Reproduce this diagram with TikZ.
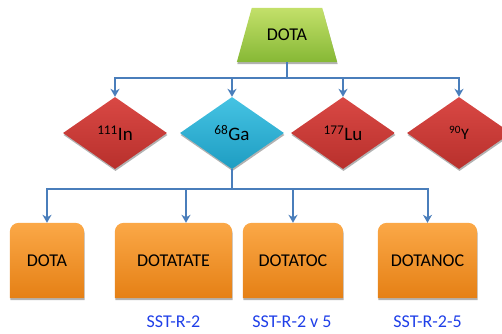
\documentclass[tikz,border=0pt]{standalone}
\usepackage{fontspec}
\setmainfont{Carlito}
\usetikzlibrary{shapes.geometric,arrows.meta,shadows,backgrounds,calc}
\definecolor{conncol}{HTML}{4A7EBB}
\definecolor{sstblue}{HTML}{1F3FE8}
\definecolor{redtop}{HTML}{D94844}
\definecolor{redbot}{HTML}{B8302C}
\definecolor{bluetop}{HTML}{45C3E3}
\definecolor{bluebot}{HTML}{1E9DC2}
\definecolor{orgtop}{HTML}{FBA847}
\definecolor{orgmid}{HTML}{F7941E}
\definecolor{orgbot}{HTML}{E58015}
\definecolor{grntop}{HTML}{C3E06A}
\definecolor{grnbot}{HTML}{86B835}
\tikzset{
  x=1pt, y=-1pt,
  every node/.style={font=\fontsize{18}{21}\selectfont, text=black},
  link/.style={draw=conncol, line width=2pt},
  arr/.style={link, -{Stealth[length=8pt,width=9pt,inset=2.5pt]}},
  shad/.style={drop shadow={shadow xshift=0.5pt, shadow yshift=-2pt, opacity=0.3, fill=black}},
  iso/.style={diamond, minimum width=104pt, minimum height=72pt, inner sep=0pt, shad},
  hot/.style={iso, top color=redtop, bottom color=redbot},
  cold/.style={iso, top color=bluetop, bottom color=bluebot},
  ligand/.style={rectangle, minimum height=75pt, inner sep=0pt},
  sst/.style={text=sstblue, font=\fontsize{18}{21}\selectfont, anchor=base, inner sep=0pt},
  el/.style={font=\fontsize{19}{22}\selectfont}
}
\newcommand{\toprounded}[1]{%
  \shade[shad, top color=orgtop, middle color=orgmid, bottom color=orgbot]
    (#1.south west) -- ($(#1.north west)+(0,9)$)
    arc[start angle=180, end angle=90, radius=9pt]
    -- ($(#1.north east)+(-9,0)$)
    arc[start angle=90, end angle=0, radius=9pt]
    -- (#1.south east) -- cycle;}
\begin{document}
\begin{tikzpicture}
\useasboundingbox (0,0) rectangle (502,333);
% top trapezium
\node[rectangle, minimum width=100pt, minimum height=54pt, inner sep=0pt] (dota) at (287,35) {\raisebox{-5pt}{DOTA}};
\begin{scope}[on background layer]
  \shade[shad, top color=grntop, bottom color=grnbot]
    (dota.south west) -- ($(dota.north west)+(15,0)$) -- ($(dota.north east)+(-15,0)$) -- (dota.south east) -- cycle;
\end{scope}
% isotopes
\node[hot, el]  (in) at (115,133) {\textsuperscript{111}In};
\node[cold, el] (ga) at (232,133) {\textsuperscript{68}Ga};
\node[hot, el]  (lu) at (343,133) {\textsuperscript{177}Lu};
\node[hot, font=\fontsize{16}{19}\selectfont]  (y) at (459,133) {\textsuperscript{90}Y};
% ligands
\node[ligand, minimum width=74pt]  (b1) at (47,260.5) {DOTA};
\node[ligand, minimum width=117pt] (b2) at (173.5,260.5) {DOTATATE};
\node[ligand, minimum width=100pt] (b3) at (293,260.5) {DOTATOC};
\node[ligand, minimum width=99pt]  (b4) at (427.5,260.5) {DOTANOC};
\begin{scope}[on background layer]
  \toprounded{b1}\toprounded{b2}\toprounded{b3}\toprounded{b4}
\end{scope}
% receptor labels
\node[sst] (s2) at (173.5,327.5) {SST-R-2};
\node[sst] (s3) at (292,327.5) {SST-R-2 v 5};
\node[sst] (s4) at (427.5,327.5) {SST-R-2-5};
% connectors
\coordinate (bus1) at (287,78);
\coordinate (bus2) at (232,189);
\draw[link] (dota.south) -- (bus1);
\draw[arr] (bus1) -| (in.north);
\draw[arr] (bus1) -| (ga.north);
\draw[arr] (bus1) -| (lu.north);
\draw[arr] (bus1) -| (y.north);
\draw[link] (ga.south) -- (bus2);
\draw[arr] (bus2) -| (b1.north);
\draw[arr] (bus2) -| ($(b2.north)+(12.5,0)$);
\draw[arr] (bus2) -| (b3.north);
\draw[arr] (bus2) -| (b4.north);
\end{tikzpicture}
\end{document}
